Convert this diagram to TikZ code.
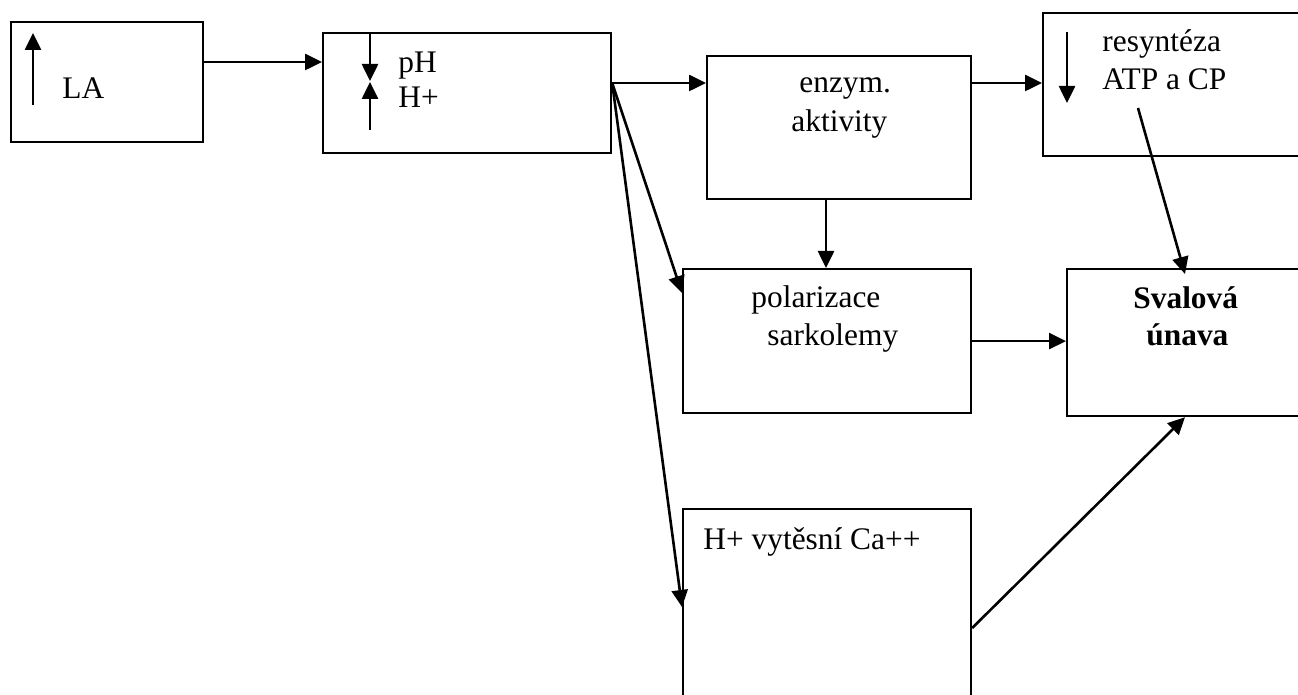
\documentclass[tikz,border=0pt]{standalone}
\usepackage{fontspec}
\setmainfont{Liberation Serif}
\usepackage{tikz}
\usetikzlibrary{arrows.meta,calc}

\tikzset{
  boite/.style={draw, line width=1.1pt, anchor=north west, inner sep=0pt},
  fleche/.style={-{Triangle[length=8.5pt,width=8pt]}, line width=1.3pt},
  texte/.style={anchor=base west, inner sep=0pt, font=\fontsize{15.7}{19}\selectfont},
}

\begin{document}
\begin{tikzpicture}[x=0.5pt, y=-0.5pt]

\path[use as bounding box] (0,0) rectangle (1298,695);
\clip (0,0) rectangle (1298,695);

% boites
\node[boite, minimum width=96pt, minimum height=60pt] (la) at (10,21) {};
\node[boite, minimum width=144pt, minimum height=60pt] (ph) at (322,32) {};
\node[boite, minimum width=132pt, minimum height=71.5pt] (enz) at (706,55) {};
\node[boite, minimum width=144pt, minimum height=71.5pt] (res) at (1042,12) {};
\node[boite, minimum width=144pt, minimum height=72pt] (pol) at (682,268) {};
\node[boite, minimum width=144pt, minimum height=73.5pt] (sval) at (1066,268) {};
\node[boite, minimum width=144pt, minimum height=110pt] (hca) at (682,508) {};

% texte
\node[texte] (tla) at (62,99) {LA};
\node[texte] (tph) at (398,73) {pH};
\node[texte] (thp) at (398,108) {H+};
\node[texte] (tenz) at (799,93) {enzym.};
\node[texte] (takt) at (791,132) {aktivity};
\node[texte] (tres) at (1102,52) {resyntéza};
\node[texte] (tatp) at (1102,90) {ATP a CP};
\node[texte] (tpol) at (751,308) {polarizace};
\node[texte] (tsar) at (767,346) {sarkolemy};
\node[texte] (tsva) at (1133,309) {\textbf{Svalová}};
\node[texte] (tuna) at (1146,346) {\textbf{únava}};
\node[texte] (thca) at (703,550) {H+ vytěsní Ca++};

% petites fleches
\draw[fleche] (33,105) -- (33,33);
\draw[fleche] (370,32) -- (370,81);
\draw[fleche] (370,130) -- (370,82);
\draw[fleche] (1067,32) -- (1067,103);

% liaisons
\coordinate (fourche) at (ph.east |- 0,83);
\coordinate (atp) at (1138,108);
\draw[fleche] (la.east |- 0,62) -- (ph.west |- 0,62);
\draw[fleche] (fourche) -- (enz.west |- fourche);
\draw[fleche] (fourche) -- (pol.west |- 0,293);
\draw[fleche] (fourche) -- (hca.west |- 0,607);
\draw[fleche] (enz.east |- 0,83) -- (res.west |- 0,83);
\draw[fleche] (enz.south -| 826,0) -- (pol.north -| 826,0);
\draw[fleche] (pol.east) -- (sval.west |- pol.east);
\draw[fleche] (atp) -- ($(sval.north -| 1185,0)+(0,6)$);
\draw[fleche] (hca.east |- 0,628) -- (sval.south -| 1185,0);

\end{tikzpicture}
\end{document}
